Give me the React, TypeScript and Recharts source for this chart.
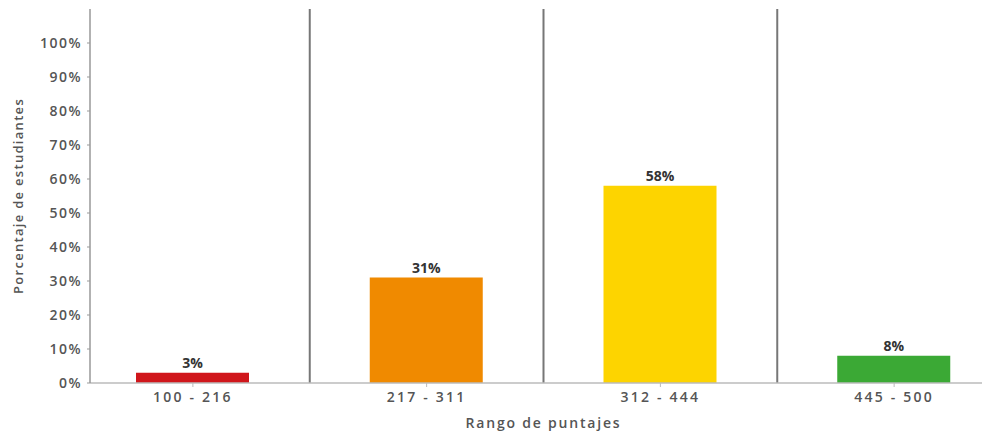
import React from "react";
import {
  BarChart,
  Bar,
  Cell,
  XAxis,
  YAxis,
  LabelList,
  ReferenceLine,
} from "recharts";

const ranges = ["100 - 216", "217 - 311", "312 - 444", "445 - 500"];
const percentages = [3, 31, 58, 8];
const barColors = ["#d0161b", "#f08a00", "#fdd400", "#3ba935"];
const yTicks = [0, 10, 20, 30, 40, 50, 60, 70, 80, 90, 100];

const data = ranges.map((range, i) => ({ range, value: percentages[i] }));

const font = "'Open Sans', 'DejaVu Sans', sans-serif";

const App = () => {
  return (
    <div
      style={{
        position: "absolute",
        left: 0,
        top: 0,
        width: 982,
        height: 432,
        overflow: "hidden",
        background: "#fff",
      }}
    >
      <BarChart
        width={1020}
        height={432}
        data={data}
        margin={{ top: 9, right: 9, left: 0, bottom: 0 }}
        style={{ fontFamily: font }}
      >
        <XAxis
          dataKey="range"
          height={49}
          padding={{ left: -14, right: 0 }}
          axisLine={{ stroke: "#bbb", strokeWidth: 1.5 }}
          tickLine={{ stroke: "#bbb" }}
          tickSize={4}
          tickMargin={5}
          tick={{ fill: "#555", fontSize: 14, fontWeight: 600, letterSpacing: 2.2 }}
          label={{
            value: "Rango de puntajes",
            position: "insideBottom",
            offset: 4,
            dx: -7,
            fill: "#555",
            fontSize: 14,
            fontWeight: 600,
            letterSpacing: 1.8,
          }}
        />
        <YAxis
          width={90}
          domain={[0, 110]}
          ticks={yTicks}
          allowDataOverflow
          tickFormatter={(v) => `${v}%`}
          axisLine={{ stroke: "#999", strokeWidth: 1.5 }}
          tickLine={{ stroke: "#999" }}
          tickSize={3}
          tickMargin={5}
          tick={{ fill: "#555", fontSize: 14, fontWeight: 600, letterSpacing: 1.5 }}
          label={{
            value: "Porcentaje de estudiantes",
            angle: -90,
            position: "center",
            dx: -27,
            fill: "#555",
            fontSize: 13,
            fontWeight: 600,
            letterSpacing: 1.3,
          }}
        />
        {/* separators at the start of each band after the first */}
        {ranges.slice(1).map((r) => (
          <ReferenceLine
            key={r}
            x={r}
            position="start"
            stroke="#777"
            strokeWidth={2}
            ifOverflow="visible"
          />
        ))}
        <Bar dataKey="value" barSize={113} isAnimationActive={false}>
          {data.map((d, i) => (
            <Cell key={d.range} fill={barColors[i]} />
          ))}
          <LabelList
            dataKey="value"
            position="top"
            offset={5}
            formatter={(v: any) => `${v}%`}
            style={{ fill: "#333", fontSize: 14, fontWeight: 700, fontFamily: font }}
          />
        </Bar>
      </BarChart>
    </div>
  );
};

export default App;
